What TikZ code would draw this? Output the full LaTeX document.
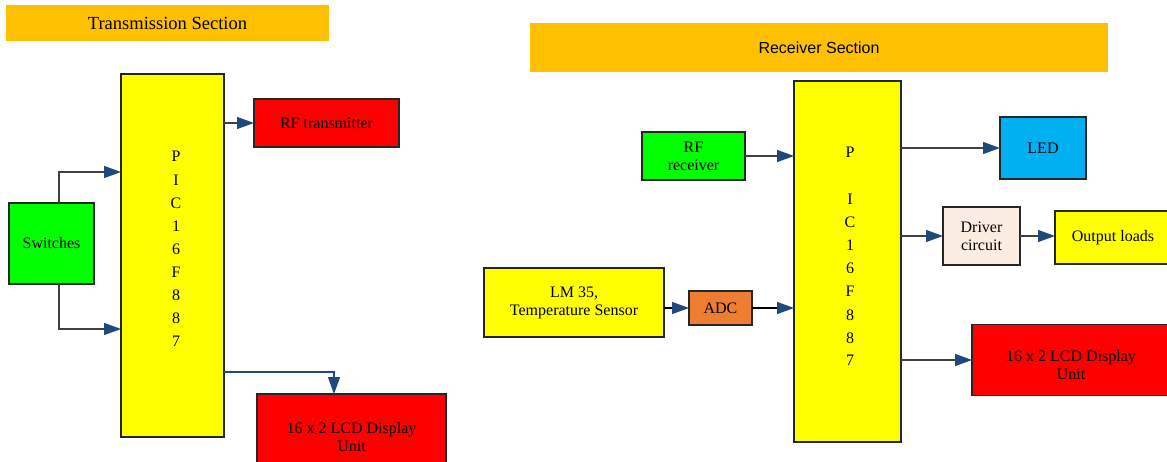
\documentclass[tikz,border=0pt]{standalone}
\usepackage{fontspec}
\setmainfont{Liberation Serif}
\newfontfamily\sansf{Liberation Sans}
\usetikzlibrary{arrows.meta}
\definecolor{hdr}{HTML}{FFC000}
\definecolor{yel}{HTML}{FFFF00}
\definecolor{rd}{HTML}{FF0000}
\definecolor{grn}{HTML}{00FF00}
\definecolor{ledb}{HTML}{00B0F0}
\definecolor{adco}{HTML}{ED7D31}
\definecolor{peach}{HTML}{FCEDE3}
\definecolor{boxline}{HTML}{262626}
\definecolor{lineg}{HTML}{404040}
\definecolor{arrowb}{HTML}{1F497D}
\begin{document}
\begin{tikzpicture}[x=1pt,y=-1pt,
  box/.style={draw=boxline, line width=1.1pt, inner sep=0pt, outer sep=0pt,
    align=center, font=\fontsize{16}{18}\selectfont},
  header/.style={inner sep=0pt, outer sep=0pt, fill=hdr},
  pl/.style={inner sep=0pt, anchor=base, font=\fontsize{16}{18}\selectfont},
  conn/.style={draw=lineg, line width=1.3pt,
    -{Triangle[length=17pt,width=12pt,color=arrowb]}},
  connk/.style={conn, draw=black},
  connb/.style={conn, draw=arrowb},
]
\useasboundingbox (0,0) rectangle (1167,462);

% ---------------- Transmission section ----------------
\node[header, minimum width=323pt, minimum height=36pt,
  font=\fontsize{18.5}{20}\selectfont] (hdrT) at (167.5,23) {Transmission Section};
\node[box, fill=yel, minimum width=103pt, minimum height=363pt] (picT) at (172.5,255.5) {};
\foreach \ch [count=\i] in {P,I,C,1,6,F,8,8,7}
  \node[pl] (pT\i) at (176,{162+23.1*(\i-1)}) {\ch};
\node[box, fill=rd, minimum width=145pt, minimum height=48pt] (rft) at (326.5,123) {RF transmitter};
\node[box, fill=grn, minimum width=85pt, minimum height=81pt] (sw) at (51.5,243.5) {Switches};
\node[box, fill=rd, minimum width=189pt, minimum height=78pt] (lcdT) at (351.5,433)
  {\rule{0pt}{19pt}16 x 2 LCD Display\\Unit};

\draw[conn] (rft.west -| picT.east) -- (rft.west);
\draw[conn] ([xshift=7.5pt]sw.north) |- (picT.west |- 0,172);
\draw[conn] ([xshift=7.5pt]sw.south) |- (picT.west |- 0,329);
\draw[connb] (picT.east |- 0,372) -| ([xshift=-17.5pt]lcdT.north);

% ---------------- Receiver section ----------------
\node[header, minimum width=578pt, minimum height=49pt,
  font=\sansf\fontsize{16}{18}\selectfont] (hdrR) at (819,47.5) {Receiver Section};
\node[box, fill=yel, minimum width=107pt, minimum height=361pt] (picR) at (847.5,261.5) {};
\foreach \ch/\yy [count=\i] in {P/158,I/205,C/228,1/251,6/274,F/297,8/320,8/343,7/365}
  \node[pl] (pR\i) at (850,\yy) {\ch};
\node[box, fill=grn, minimum width=103pt, minimum height=48pt] (rfr) at (693.5,156) {RF\\receiver};
\node[box, fill=yel, minimum width=180pt, minimum height=69pt] (lm) at (574,302.5) {LM 35,\\Temperature Sensor};
\node[box, fill=adco, minimum width=63pt, minimum height=34pt] (adc) at (720.5,308) {ADC};
\node[box, fill=ledb, minimum width=86pt, minimum height=62pt] (led) at (1043,148) {LED};
\node[box, fill=peach, minimum width=77pt, minimum height=58pt] (drv) at (981.5,236) {Driver\\circuit};
\node[box, fill=yel, minimum width=116pt, minimum height=53pt] (outl) at (1113,237.5) {Output loads};
\node[box, fill=rd, minimum width=198pt, minimum height=71pt] (lcdR) at (1071,360)
  {\rule{0pt}{22pt}16 x 2 LCD Display\\Unit};

\draw[conn] (rfr.east) -- (rfr.east -| picR.west);
\draw[connk] (lm.east |- adc.west) -- (adc.west);
\draw[connk] (adc.east) -- (adc.east -| picR.west);
\draw[conn] (picR.east |- led.west) -- (led.west);
\draw[conn] (picR.east |- drv.west) -- (drv.west);
\draw[conn] (drv.east) -- (drv.east -| outl.west);
\draw[conn] (picR.east |- lcdR.west) -- (lcdR.west);
\end{tikzpicture}
\end{document}
